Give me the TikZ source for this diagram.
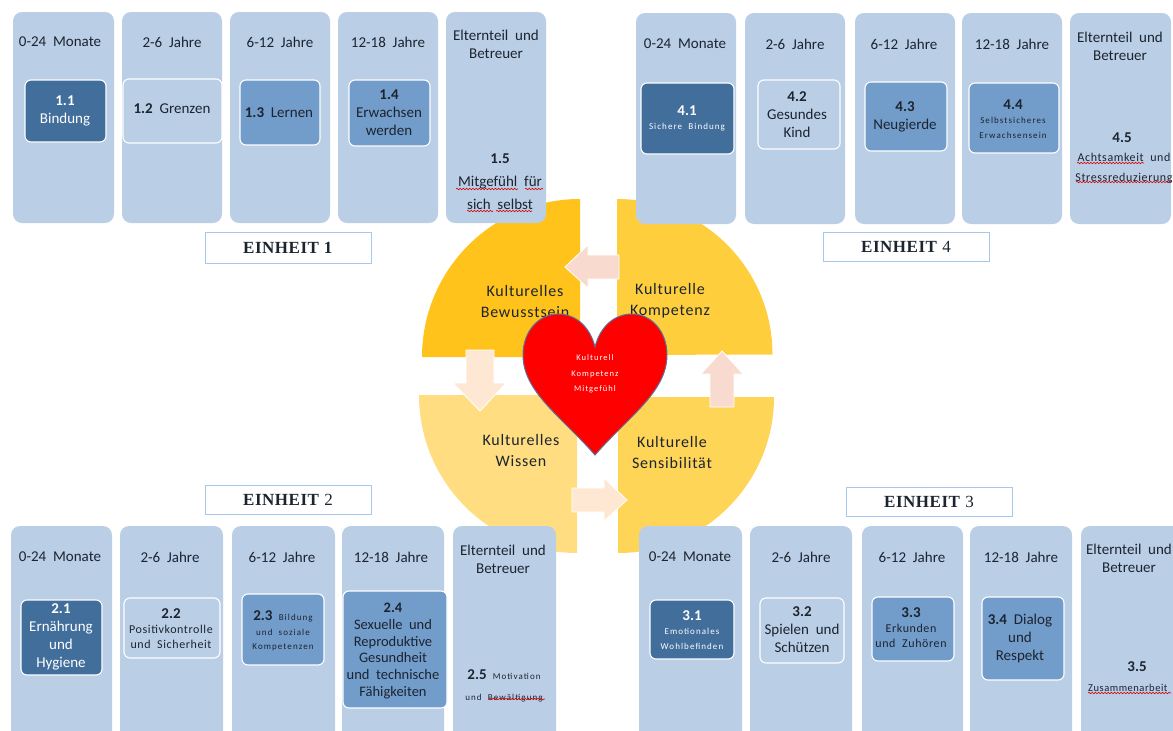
\documentclass[tikz,border=0pt]{standalone}
\usepackage{fontspec}
\setmainfont{Carlito}[WordSpace=2]
\newfontfamily\wide{Carlito}[LetterSpace=5,WordSpace=1.2]
\newfontfamily\smallfam{Carlito}[LetterSpace=5,WordSpace=2]
\newfontfamily\tinyfam{Carlito}[LetterSpace=12,WordSpace=2]
\newfontfamily\titlefont{Liberation Serif}[LetterSpace=3]
\usetikzlibrary{decorations.pathmorphing}
\definecolor{colfill}{HTML}{BACEE6}
\definecolor{darkbox}{HTML}{416E9B}
\definecolor{midbox}{HTML}{729CCA}
\definecolor{frameblue}{HTML}{A5C8EC}
\definecolor{inkdark}{HTML}{1C2430}
\definecolor{heartline}{HTML}{5E7196}
\definecolor{qa}{HTML}{FFC31B}
\definecolor{qb}{HTML}{FFCE3D}
\definecolor{qc}{HTML}{FFDD80}
\definecolor{qd}{HTML}{FFD557}
\definecolor{arrowrose}{HTML}{F8DACF}
\definecolor{arrowpeach}{HTML}{FFE8D3}
\tikzset{
  x=1pt,y=-1pt,
  rectbase/.style={anchor=north west,inner sep=0pt,outer sep=0pt},
  colbox/.style={rectbase,fill=colfill,rounded corners=9pt},
  lightbox/.style={rectbase,fill=colfill,draw=white,line width=1.1pt,rounded corners=6pt},
  darkcard/.style={lightbox,fill=darkbox},
  midcard/.style={lightbox,fill=midbox},
  unitbox/.style={rectbase,fill=white,draw=frameblue,line width=1pt},
  unitlabel/.style={font=\fontsize{17}{18}\titlefont,text=inkdark,inner sep=0pt},
  txt/.style={font=\fontsize{15}{18}\selectfont,text=inkdark,align=center,inner sep=0pt,yshift=-1pt},
  txtw/.style={txt,text=white},
  small/.style={font=\fontsize{12}{15}\smallfam},
  tiny/.style={font=\fontsize{9}{14.5}\tinyfam},
  quadlabel/.style={font=\fontsize{16}{21}\wide,text=inkdark,align=center,inner sep=0pt,yshift=-1pt},
  blockarrow/.style={draw=white,line width=.8pt,line join=miter},
  squiggle/.style={draw=red!85!black,line width=.6pt,decorate,decoration={snake,amplitude=.7pt,segment length=3.2pt}},
}
\newcommand{\bx}[6]{\node[#1,minimum width={(#4-#2)*1pt},minimum height={(#5-#3)*1pt}] (#6) at (#2,#3) {};}
\newcommand{\numlab}[1]{{\normalfont\fontsize{15}{15}\selectfont\bfseries #1}}
\begin{document}
\begin{tikzpicture}
\useasboundingbox (0,0) rectangle (1173,731);
\clip (0,0) rectangle (1173,731);
\fill[white] (0,0) rectangle (1173,731);
% quadrants
\fill[qa] (580,357) -- (422,357) arc[start angle=180,end angle=90,radius=158pt] -- cycle;
\fill[qb] (617,355) -- (617,199) arc[start angle=90,end angle=0,radius=155.5pt] -- cycle;
\fill[qc] (577,395) -- (419,395) arc[start angle=180,end angle=270,radius=158pt] -- (577,395) -- cycle;
\fill[qd] (618,397) -- (774,397) arc[start angle=0,end angle=-90,radius=156pt] -- cycle;
% block arrows
\draw[blockarrow,fill=arrowrose] (565,267) -- (588,245) -- (588,255) -- (619,255) -- (619,279) -- (588,279) -- (588,288) -- cycle;
\draw[blockarrow,fill=arrowpeach] (480,411) -- (453,383) -- (466,383) -- (466,350) -- (494,350) -- (494,383) -- (506,383) -- cycle;
\draw[blockarrow,fill=arrowpeach] (627,500) -- (604,478) -- (604,488) -- (572,488) -- (572,512) -- (604,512) -- (604,521) -- cycle;
\draw[blockarrow,fill=arrowrose] (722,351) -- (701,374) -- (710,374) -- (710,407) -- (734,407) -- (734,374) -- (743,374) -- cycle;
% quadrant labels
\node[quadlabel] (qlA) at (525,300) {Kulturelles\\Bewusstsein};
\node[quadlabel] (qlB) at (670,300) {Kulturelle\\Kompetenz};
\node[quadlabel] (qlC) at (521,449) {Kulturelles\\Wissen};
\node[quadlabel] (qlD) at (672,451) {Kulturelle\\Sensibilität};
% heart
\draw[fill=red,draw=heartline,line width=1pt]
  (595,455) .. controls (562,417) and (523,392) .. (523,355)
  .. controls (523,331) and (539,314) .. (558,314)
  .. controls (576,314) and (590,327) .. (595,347)
  .. controls (600,327) and (614,314) .. (632,314)
  .. controls (651,314) and (667,331) .. (667,355)
  .. controls (667,392) and (628,417) .. (595,455) -- cycle;
\node[txtw,font=\fontsize{8.5}{15.5}\tinyfam] (heartText) at (595,373) {Kulturell\\Kompetenz\\Mitgefühl};
% Unit 1
\bx{colbox}{13}{12}{114}{223}{c11}
\bx{colbox}{122}{12}{222}{223}{c12}
\bx{colbox}{230}{12}{330}{223}{c13}
\bx{colbox}{338}{12}{438}{223}{c14}
\bx{colbox}{446}{12}{546}{223}{c15}
\bx{darkcard}{25}{80}{106}{142}{b11}
\bx{lightbox}{123}{79}{222}{143}{b12}
\bx{midcard}{240}{80}{320}{145}{b13}
\bx{midcard}{349}{80}{430}{146}{b14}
\node[txt] (h11) at (60,41) {0-24 Monate};
\node[txt] (h12) at (172,41) {2-6 Jahre};
\node[txt] (h13) at (280,41) {6-12 Jahre};
\node[txt] (h14) at (388,41) {12-18 Jahre};
\node[txt] (h15) at (496,43) {Elternteil und\\Betreuer};
\node[txtw] (t11) at (65,110) {\textbf{1.1}\\Bindung};
\node[txt] (t12) at (172,108) {\textbf{1.2} Grenzen};
\node[txt] (t13) at (279,112) {\textbf{1.3} Lernen};
\node[txt] (t14) at (389,112) {\textbf{1.4}\\Erwachsen\\werden};
\node[txt,font=\fontsize{15}{23}\selectfont] (t15) at (500,181) {\textbf{1.5}\\Mitgefühl für\\sich selbst};
\draw[squiggle] (456,189) -- (518,189);
\draw[squiggle] (525,189) -- (543,189);
\draw[squiggle] (467,211) -- (493,211);
\draw[squiggle] (496,211) -- (532,211);
\bx{unitbox}{205}{232}{371}{263}{u1}
\node[unitlabel] at (u1.center) (ul1) {\textbf{EINHEIT 1}};
% Unit 4
\bx{colbox}{636}{13}{736}{224}{c41}
\bx{colbox}{745}{13}{845}{224}{c42}
\bx{colbox}{855}{13}{955}{224}{c43}
\bx{colbox}{962}{13}{1062}{224}{c44}
\bx{colbox}{1070}{13}{1171}{224}{c45}
\bx{darkcard}{641}{83}{734}{154}{b41}
\bx{lightbox}{758}{80}{840}{149}{b42}
\bx{midcard}{865}{82}{947}{151}{b43}
\bx{midcard}{969}{83}{1059}{153}{b44}
\node[txt] (h41) at (685,43) {0-24 Monate};
\node[txt] (h42) at (795,43) {2-6 Jahre};
\node[txt] (h43) at (904,43) {6-12 Jahre};
\node[txt] (h44) at (1012,43) {12-18 Jahre};
\node[txt] (h45) at (1120,45) {Elternteil und\\Betreuer};
\node[txtw] (t41a) at (687,110) {\textbf{4.1}};
\node[txtw,tiny] (t41b) at (687,126) {Sichere Bindung};
\node[txt] (t42) at (797,114) {\textbf{4.2}\\Gesundes\\Kind};
\node[txt] (t43) at (905,116) {\textbf{4.3}\\Neugierde};
\node[txt] (t44a) at (1013,104) {\textbf{4.4}};
\node[txt,tiny] (t44b) at (1013,127) {Selbstsicheres\\Erwachsensein};
\node[txt] (t45a) at (1122,137) {\textbf{4.5}};
\node[txt,font=\fontsize{12}{20}\smallfam] (t45b) at (1124,167) {Achtsamkeit und\\Stressreduzierung};
\draw[squiggle] (1077,163) -- (1144,163);
\draw[squiggle] (1076,182) -- (1171,182);
\bx{unitbox}{823}{232}{989}{261}{u4}
\node[unitlabel] at (u4.center) (ul4) {\textbf{EINHEIT} 4};
% Unit 2
\bx{colbox}{11}{526}{112}{760}{c21}
\bx{colbox}{120}{526}{223}{760}{c22}
\bx{colbox}{232}{526}{335}{760}{c23}
\bx{colbox}{342}{526}{444}{760}{c24}
\bx{colbox}{453}{526}{556}{760}{c25}
\bx{darkcard}{21}{600}{102}{675}{b21}
\bx{lightbox}{124}{598}{220}{658}{b22}
\bx{midcard}{242}{594}{324}{665}{b23}
\bx{midcard}{343}{591}{447}{708}{b24}
\node[txt] (h21) at (60,556) {0-24 Monate};
\node[txt] (h22) at (170,556) {2-6 Jahre};
\node[txt] (h23) at (282,556) {6-12 Jahre};
\node[txt] (h24) at (391,556) {12-18 Jahre};
\node[txt] (h25) at (503,558) {Elternteil und\\Betreuer};
\node[txtw] (t21) at (61,636) {\textbf{2.1}\\Ernährung\\und\\Hygiene};
\node[txt] (t22a) at (171,613) {\textbf{2.2}};
\node[txt,small] (t22b) at (171,636) {Positivkontrolle\\und Sicherheit};
\node[txt,tiny] (t23) at (283,630) {\numlab{2.3} Bildung\\und soziale\\Kompetenzen};
\node[txt,font=\fontsize{14.5}{16.7}\selectfont] (t24) at (393,650) {\textbf{2.4}\\Sexuelle und\\Reproduktive\\Gesundheit\\und technische\\Fähigkeiten};
\node[txt,font=\fontsize{9}{21}\tinyfam] (t25) at (504,685) {\numlab{2.5} Motivation\\und Bewältigung};
\draw[squiggle] (489,699) -- (545,699);
\bx{unitbox}{205}{485}{371}{514}{u2}
\node[unitlabel] at (u2.center) (ul2) {\textbf{EINHEIT} 2};
% Unit 3
\bx{colbox}{639}{526}{742}{760}{c31}
\bx{colbox}{750}{526}{852}{760}{c32}
\bx{colbox}{862}{526}{963}{760}{c33}
\bx{colbox}{970}{526}{1072}{760}{c34}
\bx{colbox}{1081}{526}{1182}{760}{c35}
\bx{darkcard}{650}{600}{734}{659}{b31}
\bx{lightbox}{760}{598}{844}{663}{b32}
\bx{midcard}{872}{597}{954}{661}{b33}
\bx{midcard}{982}{597}{1064}{680}{b34}
\node[txt] (h31) at (690,556) {0-24 Monate};
\node[txt] (h32) at (801,556) {2-6 Jahre};
\node[txt] (h33) at (912,556) {6-12 Jahre};
\node[txt] (h34) at (1021,556) {12-18 Jahre};
\node[txt] (h35) at (1129,557) {Elternteil und\\Betreuer};
\node[txtw] (t31a) at (692,615) {\textbf{3.1}};
\node[txtw,tiny] (t31b) at (692,638) {Emotionales\\Wohlbefinden};
\node[txt] (t32) at (802,629) {\textbf{3.2}\\Spielen und\\Schützen};
\node[txt] (t33a) at (911,612) {\textbf{3.3}};
\node[txt,small] (t33b) at (911,635) {Erkunden\\und Zuhören};
\node[txt] (t34) at (1020,637) {\textbf{3.4} Dialog\\und\\Respekt};
\node[txt] (t35a) at (1137,666) {\textbf{3.5}};
\node[txt,font=\fontsize{10.5}{15}\smallfam,anchor=west] (t35b) at (1088,687) {Zusammenarbeit};
\draw[squiggle] (1088,693) -- (1171,693);
\bx{unitbox}{846}{487}{1012}{516}{u3}
\node[unitlabel] at (u3.center) (ul3) {\textbf{EINHEIT} 3};
\end{tikzpicture}
\end{document}
